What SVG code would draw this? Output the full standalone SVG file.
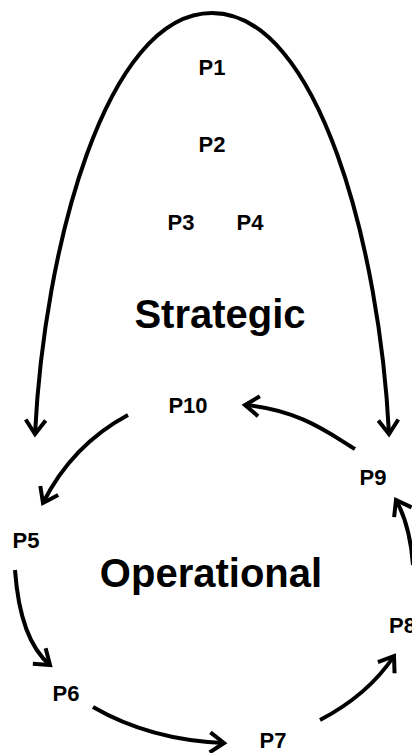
<svg xmlns="http://www.w3.org/2000/svg" width="412" height="753" viewBox="0 0 412 753">
<defs>
<style>
.lbl{font-family:"Liberation Sans",Arial,sans-serif;font-weight:bold;font-size:22px;fill:#000;text-anchor:middle}
.big{font-family:"Liberation Sans",Arial,sans-serif;font-weight:bold;font-size:40px;fill:#000;text-anchor:middle}
.con{fill:none;stroke:#000;stroke-width:4;marker-end:url(#ah)}
</style>
<marker id="ah" markerUnits="userSpaceOnUse" viewBox="-18 -13 22 26" refX="0" refY="0" markerWidth="22" markerHeight="26" orient="auto-start-reverse" overflow="visible">
<path d="M-14,-10 L0,0 L-14,10" fill="none" stroke="#000" stroke-width="4" stroke-linejoin="miter"/>
</marker>
</defs>
<rect width="412" height="753" fill="#fff"/>
<g id="connectors">
<path class="con" style="marker-start:url(#ah)" d="M35,434 C44,250 105,13 212,13 C319,13 380,250 389,434"/>
<path class="con" d="M128,415 Q72,445 43,503"/>
<path class="con" d="M355,449 C330,434 300,410 245,405"/>
<path class="con" d="M15,570 Q20,640 50,665"/>
<path class="con" d="M93,707 Q150,740 224,743"/>
<path class="con" d="M320,720 Q368,695 394,656"/>
<path class="con" d="M413,565 Q410,525 396,500"/>
</g>
<g id="P1"><text class="lbl" x="212" y="75">P1</text></g>
<g id="P2"><text class="lbl" x="212" y="152">P2</text></g>
<g id="P3"><text class="lbl" x="181" y="230">P3</text></g>
<g id="P4"><text class="lbl" x="250" y="230">P4</text></g>
<g id="strategic"><text class="big" x="220" y="328">Strategic</text></g>
<g id="P10"><text class="lbl" x="188" y="413">P10</text></g>
<g id="P9"><text class="lbl" x="373" y="485">P9</text></g>
<g id="P5"><text class="lbl" x="26" y="548">P5</text></g>
<g id="operational"><text class="big" x="211" y="587">Operational</text></g>
<g id="P8"><text class="lbl" x="389" y="633" style="text-anchor:start">P8</text></g>
<g id="P6"><text class="lbl" x="66" y="701">P6</text></g>
<g id="P7"><text class="lbl" x="273" y="748">P7</text></g>
</svg>
